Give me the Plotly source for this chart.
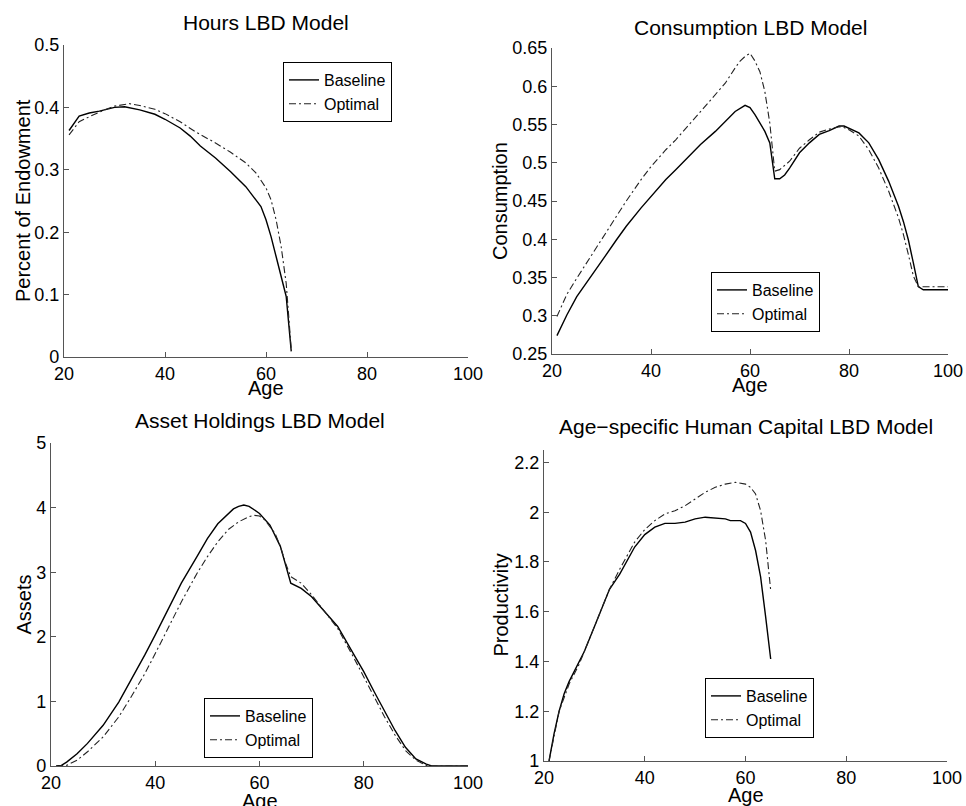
import plotly.graph_objects as go

# ---------------- data ----------------
hours_age = [21, 22, 23, 25, 27, 30, 32, 35, 38, 40, 43, 45, 47, 50, 53, 56, 58, 59, 60, 61, 62, 63, 64, 65]
hours_base = [0.363, 0.375, 0.386, 0.391, 0.394, 0.400, 0.401, 0.396, 0.389, 0.381, 0.367, 0.354, 0.338,
              0.319, 0.297, 0.273, 0.252, 0.241, 0.220, 0.193, 0.161, 0.129, 0.097, 0.009]
hours_opt_age = [21, 22, 23, 25, 28, 30, 33, 35, 38, 40, 43, 46, 50, 53, 56, 58, 59, 60, 61, 62, 63, 64, 65]
hours_opt = [0.356, 0.367, 0.377, 0.385, 0.396, 0.402, 0.406, 0.403, 0.397, 0.390, 0.377, 0.361, 0.343,
             0.328, 0.311, 0.295, 0.284, 0.271, 0.252, 0.220, 0.177, 0.118, 0.012]

cons_age = [21, 22, 23, 25, 27, 30, 33, 35, 38, 40, 43, 45, 48, 50, 53, 55, 57, 59, 60, 61, 62, 63, 64,
            65, 66, 67, 68, 70, 72, 74, 76, 78, 79, 80, 82, 84, 86, 88, 90, 91, 92, 93, 94, 95, 100]
cons_base = [0.274, 0.288, 0.301, 0.325, 0.343, 0.371, 0.399, 0.417, 0.441, 0.456, 0.478, 0.491, 0.511,
             0.524, 0.541, 0.554, 0.567, 0.575, 0.572, 0.563, 0.552, 0.541, 0.526,
             0.479, 0.479, 0.484, 0.493, 0.513, 0.526, 0.537, 0.542, 0.548, 0.548, 0.545, 0.539, 0.526,
             0.504, 0.476, 0.443, 0.423, 0.399, 0.369, 0.338, 0.334, 0.334]
cons_opt_age = [21, 22, 23, 25, 27, 30, 33, 35, 38, 40, 43, 45, 48, 50, 53, 55, 57, 58, 59, 60, 61, 62, 63, 64,
                65, 66, 68, 70, 72, 74, 76, 78, 79, 80, 82, 84, 86, 88, 90, 91, 92, 93, 94, 100]
cons_opt = [0.299, 0.314, 0.328, 0.349, 0.369, 0.399, 0.430, 0.450, 0.478, 0.495, 0.517, 0.530, 0.552,
            0.567, 0.589, 0.604, 0.624, 0.633, 0.639, 0.643, 0.633, 0.619, 0.593, 0.552,
            0.489, 0.491, 0.502, 0.519, 0.530, 0.540, 0.544, 0.547, 0.546, 0.543, 0.535, 0.517, 0.493,
            0.463, 0.428, 0.406, 0.380, 0.352, 0.338, 0.338]

asset_age = [21, 22, 23, 25, 27, 30, 33, 35, 38, 40, 43, 45, 48, 50, 52, 54, 55, 56, 57, 58, 60, 62, 64,
             66, 68, 70, 72, 75, 78, 80, 82, 84, 86, 88, 90, 92, 93, 100]
asset_base = [0.0, 0.01, 0.06, 0.19, 0.35, 0.63, 0.99, 1.28, 1.72, 2.03, 2.52, 2.83, 3.24, 3.52, 3.75, 3.91,
              3.98, 4.02, 4.04, 4.02, 3.91, 3.73, 3.40, 2.83, 2.75, 2.62, 2.44, 2.16, 1.74, 1.46,
              1.15, 0.84, 0.55, 0.29, 0.11, 0.03, 0.0, 0.0]
asset_opt_age = [21, 23, 25, 27, 30, 33, 35, 38, 40, 43, 45, 48, 50, 52, 54, 56, 58, 59, 60, 61, 62, 63, 64,
                 65, 66, 68, 70, 72, 75, 78, 80, 82, 84, 86, 88, 90, 92, 93, 100]
asset_opt = [0.0, 0.01, 0.09, 0.22, 0.45, 0.76, 1.02, 1.43, 1.74, 2.23, 2.54, 2.98, 3.24, 3.47, 3.66, 3.78,
             3.86, 3.88, 3.87, 3.81, 3.71, 3.60, 3.40, 3.14, 2.93, 2.83, 2.65, 2.44, 2.13, 1.69, 1.38,
             1.07, 0.76, 0.48, 0.24, 0.09, 0.01, 0.0, 0.0]

prod_age = [21, 22, 23, 24, 25, 27, 28, 30, 32, 33, 35, 37, 38, 40, 42, 44, 46, 48, 50, 52, 54, 56, 57,
            58, 59, 60, 61, 62, 63, 64, 65]
prod_base = [1.0, 1.11, 1.20, 1.27, 1.32, 1.40, 1.44, 1.54, 1.64, 1.69, 1.75, 1.82, 1.86, 1.91, 1.94,
             1.955, 1.955, 1.96, 1.973, 1.98, 1.977, 1.973, 1.966, 1.966, 1.966, 1.955, 1.92, 1.846,
             1.74, 1.579, 1.41]
prod_opt_age = [21, 22, 23, 25, 27, 30, 33, 35, 37, 38, 40, 42, 44, 46, 48, 50, 52, 54, 56, 58, 60, 61,
                62, 63, 64, 65]
prod_opt = [1.0, 1.10, 1.20, 1.31, 1.39, 1.54, 1.69, 1.77, 1.84, 1.88, 1.93, 1.966, 1.993, 2.006, 2.026,
            2.053, 2.08, 2.10, 2.113, 2.12, 2.113, 2.10, 2.073, 2.006, 1.886, 1.686]

x_ticks = [20, 40, 60, 80, 100]
hours_ticks = [0, 0.1, 0.2, 0.3, 0.4, 0.5]
cons_ticks = [0.25, 0.3, 0.35, 0.4, 0.45, 0.5, 0.55, 0.6, 0.65]
asset_ticks = [0, 1, 2, 3, 4, 5]
prod_ticks = [1, 1.2, 1.4, 1.6, 1.8, 2, 2.2]

titles = ["Hours LBD Model", "Consumption LBD Model", "Asset Holdings LBD Model",
          "Age\u2212specific Human Capital LBD Model"]
ylabels = ["Percent of Endowment", "Consumption", "Assets", "Productivity"]
series_names = ["Baseline", "Optimal"]

# ---------------- layout geometry (pixels) ----------------
W, H = 966, 806
FONT = "Liberation Sans, Arial, Helvetica, sans-serif"
AXC = "#555555"

panels = [
    dict(box=(64, 468, 45, 357), yr=[0, 0.5], yt=hours_ticks,
         xb=hours_age, yb=hours_base, xo=hours_opt_age, yo=hours_opt,
         leg=(283, 62), title_y=23, ylab_x=23, age_y=388),
    dict(box=(552, 948, 48, 354), yr=[0.25, 0.65], yt=cons_ticks,
         xb=cons_age, yb=cons_base, xo=cons_opt_age, yo=cons_opt,
         leg=(711, 272), title_y=27, ylab_x=500, age_y=385),
    dict(box=(51, 468, 443, 766), yr=[0, 5], yt=asset_ticks,
         xb=asset_age, yb=asset_base, xo=asset_opt_age, yo=asset_opt,
         leg=(204, 698), title_y=420, ylab_x=23, age_y=801),
    dict(box=(544, 947, 450, 761), yr=[1, 2.25], yt=prod_ticks,
         xb=prod_age, yb=prod_base, xo=prod_opt_age, yo=prod_opt,
         leg=(705, 678), title_y=427, ylab_x=500, age_y=795),
]

fig = go.Figure()
annotations = []
layout = dict(
    width=W, height=H, margin=dict(l=0, r=0, t=0, b=0),
    paper_bgcolor="white", plot_bgcolor="white",
    font=dict(family=FONT, color="black", size=18),
)


def fmt(v):
    return "%g" % v


for i, p in enumerate(panels):
    n = "" if i == 0 else str(i + 1)
    x0, x1, y0, y1 = p["box"]
    xd = [x0 / W, x1 / W]
    yd = [1 - y1 / H, 1 - y0 / H]
    legname = "legend" if i == 0 else "legend%d" % (i + 1)
    fig.add_trace(go.Scatter(x=p["xb"], y=p["yb"], mode="lines", name=series_names[0],
                             line=dict(color="black", width=1.4),
                             xaxis="x" + n, yaxis="y" + n, legend=legname))
    fig.add_trace(go.Scatter(x=p["xo"], y=p["yo"], mode="lines", name=series_names[1],
                             line=dict(color="#222222", width=1.1, dash="7px,3px,2px,3px"),
                             xaxis="x" + n, yaxis="y" + n, legend=legname))
    axcommon = dict(showgrid=False, zeroline=False, showline=True, linecolor=AXC, linewidth=1.2,
                    ticks="inside", ticklen=5, tickcolor=AXC, tickwidth=1.2,
                    tickfont=dict(family=FONT, size=18, color="black"), automargin=False, mirror=False)
    layout["xaxis" + n] = dict(domain=xd, range=[20, 100], tickvals=x_ticks,
                               ticktext=[fmt(v) for v in x_ticks],
                               anchor="y" + n, **axcommon)
    layout["yaxis" + n] = dict(domain=yd, range=p["yr"], tickvals=p["yt"],
                               ticktext=[fmt(v) for v in p["yt"]],
                               anchor="x" + n, **axcommon)
    lx, ly = p["leg"]
    layout[legname] = dict(x=lx / W, y=1 - ly / H, xanchor="left", yanchor="top",
                           bordercolor="black", borderwidth=1, bgcolor="white",
                           font=dict(family=FONT, size=16, color="black"),
                           tracegroupgap=0, itemwidth=30)
    cx = (x0 + x1) / 2 / W
    annotations.append(dict(text=titles[i], x=cx, y=1 - p["title_y"] / H, xref="paper", yref="paper",
                            xanchor="center", yanchor="middle", showarrow=False,
                            font=dict(family=FONT, size=21, color="black")))
    annotations.append(dict(text="Age", x=cx, y=1 - p["age_y"] / H, xref="paper", yref="paper",
                            xanchor="center", yanchor="middle", showarrow=False,
                            font=dict(family=FONT, size=20, color="black")))
    annotations.append(dict(text=ylabels[i], x=p["ylab_x"] / W, y=1 - ((y0 + y1) / 2) / H,
                            xref="paper", yref="paper", xanchor="center", yanchor="middle",
                            textangle=-90, showarrow=False,
                            font=dict(family=FONT, size=20, color="black")))

layout["annotations"] = annotations
fig.update_layout(**layout)
fig.write_html("out.html", config={"displayModeBar": False},
               post_script="document.body.style.margin='0';document.body.style.overflow='hidden';")
